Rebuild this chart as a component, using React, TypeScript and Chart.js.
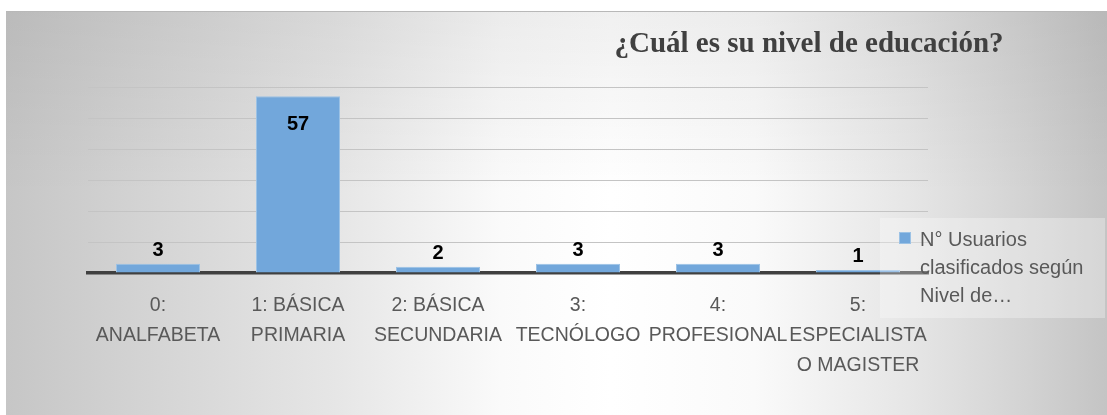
import React, { useEffect, useRef } from "react";
import { Chart, registerables } from "chart.js";

Chart.register(...registerables);

const categories: string[][] = [
  ["0:", "ANALFABETA"],
  ["1: BÁSICA", "PRIMARIA"],
  ["2: BÁSICA", "SECUNDARIA"],
  ["3:", "TECNÓLOGO"],
  ["4:", "PROFESIONAL"],
  ["5:", "ESPECIALISTA", "O MAGISTER"],
];
const values: number[] = [3, 57, 2, 3, 3, 1];
const seriesLabel = "N° Usuarios clasificados según Nivel de educación";
const legendLines: string[] = ["N° Usuarios", "clasificados según", "Nivel de…"];
const chartTitle = "¿Cuál es su nivel de educación?";
const yMax = 60;
const yStep = 10;

const TEXT_FONT = "'Liberation Sans', Arial, sans-serif";

const decorPlugin = {
  id: "decor",
  afterDatasetsDraw(chart: any) {
    const ctx = chart.ctx as CanvasRenderingContext2D;
    const meta = chart.getDatasetMeta(0);
    const area = chart.chartArea;
    ctx.save();
    ctx.font = `bold 20px ${TEXT_FONT}`;
    ctx.fillStyle = "#000000";
    ctx.textAlign = "center";
    ctx.textBaseline = "middle";
    meta.data.forEach((bar: any, i: number) => {
      const v = values[i];
      let y = bar.y - 13;
      if (bar.y - 30 < area.top) y = bar.y + 28;
      ctx.fillText(String(v), bar.x, y);
    });
    ctx.restore();
  },
  afterDraw(chart: any) {
    const ctx = chart.ctx as CanvasRenderingContext2D;
    const area = chart.chartArea;
    ctx.save();
    // title
    ctx.font = `bold 29px 'Liberation Serif', 'Times New Roman', serif`;
    ctx.fillStyle = "#404040";
    ctx.textAlign = "center";
    ctx.textBaseline = "middle";
    ctx.fillText(chartTitle, area.right - 119, area.top - 42);

    // legend box
    const bx = area.right - 48;
    const by = area.bottom - 55;
    ctx.fillStyle = "rgba(255,255,255,0.3)";
    ctx.fillRect(bx, by, 225, 100);
    // marker
    ctx.fillStyle = "#72a7db";
    ctx.fillRect(bx + 19, by + 14, 12, 12);
    ctx.strokeStyle = "#9cc2e5";
    ctx.lineWidth = 1;
    ctx.strokeRect(bx + 19.5, by + 14.5, 11, 11);
    ctx.font = `20px ${TEXT_FONT}`;
    ctx.fillStyle = "#595959";
    ctx.textAlign = "left";
    ctx.textBaseline = "middle";
    legendLines.forEach((ln, i) => {
      ctx.fillText(ln, bx + 40, by + 22 + i * 28);
    });
    ctx.restore();
  },
};

export default function App() {
  const canvasRef = useRef<HTMLCanvasElement | null>(null);

  useEffect(() => {
    document.body.style.margin = "0";
    const canvas = canvasRef.current;
    if (!canvas) return;
    const chart = new Chart(canvas, {
      type: "bar",
      data: {
        labels: categories,
        datasets: [
          {
            label: seriesLabel,
            data: values,
            backgroundColor: "#72a7db",
            borderColor: "#9cc2e5",
            borderWidth: 1,
            categoryPercentage: 1,
            barPercentage: 0.6,
          },
        ],
      },
      options: {
        animation: false,
        responsive: false,
        maintainAspectRatio: false,
        layout: { padding: { left: 82, right: 179, top: 75, bottom: 0 } },
        plugins: {
          legend: { display: false },
          title: { display: false },
          tooltip: { enabled: false },
        },
        scales: {
          x: {
            grid: { display: false, drawTicks: false },
            border: { display: true, color: "#404040", width: 3.5 },
            ticks: {
              color: "#595959",
              padding: 18,
              maxRotation: 0,
              autoSkip: false,
              font: { family: TEXT_FONT, size: 19.5, lineHeight: 30 / 19.5 },
            },
            afterFit(scale: any) {
              scale.height = 142;
            },
          },
          y: {
            min: 0,
            max: yMax,
            ticks: { display: false, stepSize: yStep },
            grid: { color: "#c4c4c4", lineWidth: 1, drawTicks: false },
            border: { display: false },
            afterFit(scale: any) {
              scale.width = 0;
            },
          },
        },
      },
      plugins: [decorPlugin],
    });
    return () => chart.destroy();
  }, []);

  return (
    <div
      style={{
        position: "absolute",
        left: 6,
        top: 11,
        width: 1101,
        height: 404,
        borderTop: "1px solid #b8b8b8",
        boxSizing: "border-box",
        background:
          "linear-gradient(to bottom, rgba(0,0,0,0.06) 0%, rgba(0,0,0,0) 45%), linear-gradient(to right, #c6c6c6 0%, #d4d4d4 13%, #e6e6e6 30%, #fafafa 45%, #ffffff 55%, #fafafa 68%, #e6e6e6 82%, #d2d2d2 93%, #c4c4c4 100%)",
      }}
    >
      <canvas ref={canvasRef} width={1101} height={403} style={{ display: "block" }} />
    </div>
  );
}
